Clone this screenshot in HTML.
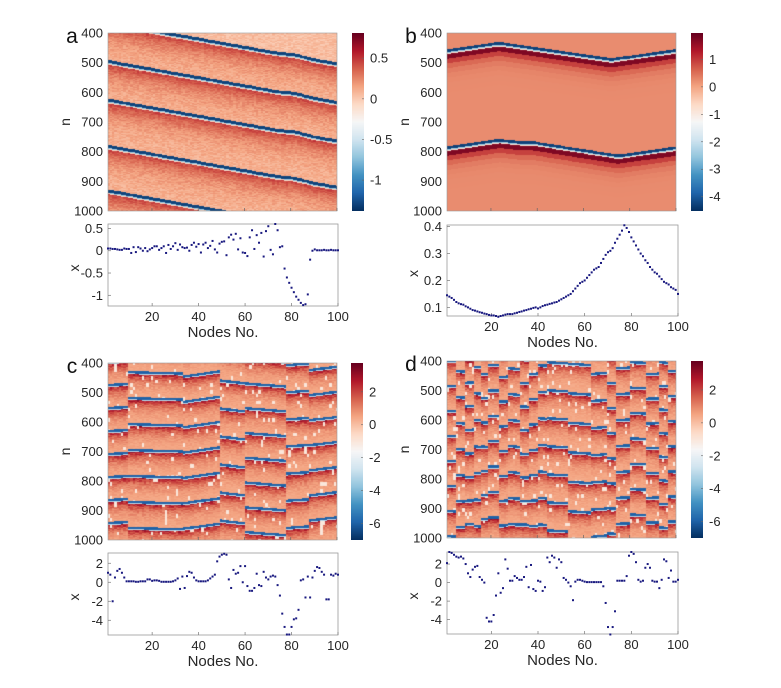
<!DOCTYPE html>
<html><head><meta charset="utf-8">
<style>
html,body{margin:0;padding:0;background:#fff;}
#wrap{position:relative;width:781px;height:688px;overflow:hidden;font-family:"Liberation Sans",Arial,sans-serif;}
canvas{position:absolute;}
svg{position:absolute;left:0;top:0;}
</style></head>
<body>
<div id="wrap">
<canvas id="hA"></canvas>
<canvas id="hB"></canvas>
<canvas id="hC"></canvas>
<canvas id="hD"></canvas>
<canvas id="cA"></canvas>
<canvas id="cB"></canvas>
<canvas id="cC"></canvas>
<canvas id="cD"></canvas>
<svg id="ov" width="781" height="688"></svg>
</div>
<script>
// ---- data ----
const xTicks=[20,40,60,80,100];
const nTicks=[400,500,600,700,800,900,1000];
const scatterA=[0.05,0.05,0.04,0.04,0.03,0.02,0.02,0.05,0.04,0.04,-0.05,0.08,-0.03,0.08,0.05,0.0,0.06,-0.01,0.03,0.06,0.1,0.1,0.02,0.06,0.1,-0.05,0.13,0.04,0.1,0.17,0.02,0.14,0.08,0.06,0.07,0.0,0.13,0.18,0.09,0.15,-0.04,0.14,0.18,0.06,0.11,0.22,0.03,-0.04,0.16,0.2,0.21,-0.1,0.3,0.36,0.25,0.38,0.03,0.28,-0.04,-0.05,-0.12,0.3,0.46,0.04,0.35,0.18,0.4,-0.13,0.44,0.55,0.02,-0.08,0.6,0.46,0.08,0.1,-0.4,-0.6,-0.72,-0.83,-0.93,-1.03,-1.1,-1.17,-1.22,-1.2,-0.98,-0.2,0.0,0.03,0.01,0.01,0.01,0.02,0.01,0.01,0.02,0.01,0.01,0.01];
const scatterB=[0.145,0.14,0.135,0.128,0.12,0.115,0.112,0.11,0.104,0.1,0.095,0.09,0.088,0.085,0.082,0.08,0.077,0.075,0.072,0.07,0.07,0.068,0.065,0.068,0.07,0.073,0.075,0.075,0.075,0.078,0.08,0.083,0.085,0.088,0.09,0.093,0.095,0.098,0.1,0.096,0.1,0.105,0.108,0.11,0.113,0.115,0.118,0.12,0.125,0.13,0.135,0.14,0.145,0.15,0.16,0.17,0.18,0.19,0.195,0.2,0.21,0.22,0.23,0.24,0.245,0.25,0.265,0.28,0.295,0.305,0.31,0.32,0.34,0.355,0.37,0.385,0.405,0.395,0.38,0.36,0.345,0.33,0.315,0.3,0.29,0.275,0.265,0.25,0.24,0.23,0.225,0.215,0.205,0.195,0.19,0.185,0.175,0.17,0.165,0.15];
const scatterC=[1.0,0.8,-2.0,0.5,1.2,1.4,1.0,0.5,0.1,0.1,0.1,0.1,0.05,0.05,0.1,0.1,0.1,0.3,0.3,0.15,0.2,0.2,0.15,0.05,0.05,0.05,0.05,0.05,0.1,0.2,0.4,-0.7,0.6,-0.6,0.65,1.1,1.0,0.5,0.2,0.1,0.1,0.1,0.1,0.2,0.4,0.6,0.8,2.2,2.7,2.9,3.0,2.9,0.3,-0.6,1.3,0.9,1.0,1.7,0.0,1.7,-0.4,-0.9,-0.9,-0.6,0.9,-0.3,-0.4,1.1,0.5,0.3,0.6,0.7,0.6,-0.3,-1.4,-3.3,-4.7,-5.5,-5.5,-4.7,-3.9,-3.8,-2.9,0.2,0.3,-1.6,0.6,-1.6,0.5,1.2,1.6,1.5,1.1,0.8,-1.8,-1.8,0.8,0.7,0.9,0.8];
const scatterD=[2.1,3.3,3.2,3.0,2.8,2.7,2.8,2.6,2.0,1.0,0.6,1.4,1.7,1.8,0.6,0.3,0.0,-3.8,-4.2,-4.2,-3.5,-1.4,1.0,-1.1,-0.6,2.5,1.5,0.2,0.2,0.7,0.5,0.3,0.3,0.6,1.7,-0.5,1.9,-0.7,-0.9,0.2,0.1,-0.9,-0.5,2.7,2.2,2.9,2.7,1.6,2.5,2.2,0.5,0.3,0.0,-0.4,-1.9,0.1,0.3,0.3,0.2,0.1,0.05,0.05,0.05,0.05,0.05,0.05,0.05,-0.4,-2.2,-4.8,-5.6,-4.8,-3.1,0.2,0.2,0.2,0.2,0.7,2.9,3.3,3.1,2.2,0.3,0.1,0.2,1.6,2.0,1.6,0.2,0.1,0.1,-0.6,0.3,2.5,2.3,0.5,1.3,0.1,0.1,0.3];
const frontsA=[362,492,622,778,928];
const slopeA=1.38;
const frontB1x=[1,23,72,100], frontB1n=[455,430,485,455];
const frontB2x=[1,23,33,38,75,100], frontB2n=[782,757,765,765,810,783];
const segC=[[1,9,470,-0.3,78],[9,33,515,0.2,88],[33,49,700,-1.1,86],[49,60,550,0.9,95],[60,78,465,0.6,84],[78,88,495,-0.5,92],[88,100,505,-0.9,85]];
const segD=[[1,4,480,0.3,85],[4,8,430,0.5,88],[8,12,470,-0.4,80],[12,15,505,0.6,90],[15,18,440,0.2,82],[18,23,410,0.0,86],[23,27,450,-0.3,84],[27,32,420,0.6,88],[32,36,470,0.3,80],[36,40,440,-0.4,86],[40,44,410,0.5,90],[44,53,400,0.4,95],[53,63,505,0.5,100],[63,70,440,-0.6,92],[70,74,470,0.4,85],[74,80,420,-0.3,88],[80,87,400,0.3,86],[87,93,440,-0.2,84],[93,97,480,0.5,80],[97,100,430,0.2,85]];

// ---- layout ----
const P={
 A:{h:{x:108,y:33,w:229,h:178},c:{x:352,y:33,w:12,h:178},s:{x:108,y:224,w:230,h:82},sr:[-1.24,0.6],st:[0.5,0,-0.5,-1],vr:[-1.38,0.81],ct:[0.5,0,-0.5,-1],data:scatterA,L:'a',lx:72},
 B:{h:{x:447,y:33,w:229,h:178},c:{x:691,y:33,w:12,h:178},s:{x:447,y:225,w:231,h:91},sr:[0.068,0.406],st:[0.1,0.2,0.3,0.4],vr:[-4.52,1.96],ct:[1,0,-1,-2,-3,-4],data:scatterB,L:'b',lx:411},
 C:{h:{x:108,y:363,w:229,h:177},c:{x:351,y:363,w:12,h:177},s:{x:108,y:553,w:230,h:82},sr:[-5.55,3.08],st:[2,0,-2,-4],vr:[-7,3.75],ct:[2,0,-2,-4,-6],data:scatterC,L:'c',lx:72},
 D:{h:{x:447,y:361,w:229,h:177},c:{x:691,y:361,w:12,h:177},s:{x:447,y:552,w:231,h:82},sr:[-5.55,3.3],st:[2,0,-2,-4],vr:[-7,3.76],ct:[2,0,-2,-4,-6],data:scatterD,L:'d',lx:411}
};
const stops=[[5,48,97],[33,102,172],[67,147,195],[146,197,222],[209,229,240],[247,247,247],[253,219,199],[244,165,130],[214,96,77],[178,24,43],[103,0,31]];
function cmap(t){t=Math.max(0,Math.min(1,t));const f=t*10,i=Math.min(9,Math.floor(f)),r=f-i;const a=stops[i],b=stops[i+1];return [a[0]+(b[0]-a[0])*r,a[1]+(b[1]-a[1])*r,a[2]+(b[2]-a[2])*r];}
function hash(a,b){let h=(a*374761393+b*668265263)|0;h=(h^(h>>>13))*1274126177|0;return ((h^(h>>>16))>>>0)/4294967296;}
function interp(xs,ns,x){for(let i=0;i<xs.length-1;i++){if(x<=xs[i+1]){const r=(x-xs[i])/(xs[i+1]-xs[i]);return ns[i]+(ns[i+1]-ns[i])*r;}}return ns[ns.length-1];}
function fieldA(node,n){let best=1e9;for(const f of frontsA){let fr=f+slopeA*(node-1);if(node>74&&node<90)fr+= (node<82? (node-74)*-0.6 : -4.8+(node-82)*0.6);const d=n-fr;if(d>=0&&d<best)best=d;}
 const nz=(hash(node,Math.floor(n/3))-0.5)*0.14;
 if(best<10)return -1.3;if(best<13)return -0.7;if(best<16)return -0.05;if(best>1e8)return 0.05+nz;
 return 0.08+0.4*Math.exp(-(best-16)/45)+nz;}
function fieldB(node,n){const f1=interp(frontB1x,frontB1n,node),f2=interp(frontB2x,frontB2n,node);let d=n-f2;if(d<0)d=n-f1;
 if(d<0||d>300)return 0.25; if(d<9)return -4.3;if(d<12)return -2.5;if(d<15)return -0.8;
 const s=Math.floor((d-15)/16);return 0.25+1.5*Math.exp(-s/1.3);}
function fieldCD(segs,node,n,seed){let sg=segs[segs.length-1];for(const s of segs){if(node>=s[0]&&node<s[1]){sg=s;break;}}
 const fr=sg[2]+sg[3]*(node-sg[0]);let d=((n-fr)%sg[4]+sg[4])%sg[4];
 const blk=hash(node*7+seed,Math.floor(n/12));
 if(d<8)return -6;if(d<11)return -3;
 if(blk>0.95)return -1.0;
 const st=hash(node+seed,Math.floor(n/3.5));
 const base=0.4+2.3*Math.exp(-(d-11)/22);
 return base+(st-0.5)*1.4*Math.exp(-(d-11)/40);}
function drawHeat(id,p,fn){const c=document.getElementById(id);c.width=p.h.w;c.height=p.h.h;c.style.left=p.h.x+'px';c.style.top=p.h.y+'px';
 const ctx=c.getContext('2d');const im=ctx.createImageData(p.h.w,p.h.h);
 for(let py=0;py<p.h.h;py++){const n=400+(py+0.5)/p.h.h*600;for(let px=0;px<p.h.w;px++){const node=Math.floor(0.5+px/p.h.w*100)+0.5;const v=fn(Math.max(1,Math.min(100,node)),n);const col=cmap((v-p.vr[0])/(p.vr[1]-p.vr[0]));const k=(py*p.h.w+px)*4;im.data[k]=col[0];im.data[k+1]=col[1];im.data[k+2]=col[2];im.data[k+3]=255;}}
 ctx.putImageData(im,0,0);}
function drawCB(id,p){const c=document.getElementById(id);c.width=p.c.w;c.height=p.c.h;c.style.left=p.c.x+'px';c.style.top=p.c.y+'px';const ctx=c.getContext('2d');
 for(let y=0;y<p.c.h;y++){const col=cmap(1-y/(p.c.h-1));ctx.fillStyle=`rgb(${col[0]|0},${col[1]|0},${col[2]|0})`;ctx.fillRect(0,y,p.c.w,1);}}
drawHeat('hA',P.A,fieldA);drawHeat('hB',P.B,fieldB);
drawHeat('hC',P.C,(x,n)=>fieldCD(segC,x,n,11));drawHeat('hD',P.D,(x,n)=>fieldCD(segD,x,n,29));
drawCB('cA',P.A);drawCB('cB',P.B);drawCB('cC',P.C);drawCB('cD',P.D);

const NS='http://www.w3.org/2000/svg';const ov=document.getElementById('ov');
function el(tag,attrs,txt){const e=document.createElementNS(NS,tag);for(const k in attrs)e.setAttribute(k,attrs[k]);if(txt!==undefined)e.textContent=txt;ov.appendChild(e);return e;}
const TC='#262626';
for(const key of ['A','B','C','D']){const p=P[key];const h=p.h,s=p.s,cb=p.c;
 const xH=v=>h.x+(v-1)/99*h.w, yH=n=>h.y+(n-400)/600*h.h;
 const xS=v=>s.x+(v-1)/99*s.w, yS=v=>s.y+(p.sr[1]-v)/(p.sr[1]-p.sr[0])*s.h;
 const yC=v=>cb.y+(p.vr[1]-v)/(p.vr[1]-p.vr[0])*cb.h;
 let e=el('text',{x:p.lx,y:h.y+10,'font-size':21,'text-anchor':'middle',fill:'#111'},p.L.toLowerCase());
 
 
 e=el('rect',{x:h.x,y:h.y,width:h.w,height:h.h,fill:'none',stroke:'#9a9a9a','stroke-width':0.6});
 
 
 for(const n of nTicks){e=el('text',{x:h.x-5,y:yH(n)+4.5,'font-size':13,'text-anchor':'end',fill:TC},String(n));
  
  }
 for(const t of xTicks){e=el('line',{x1:xH(t),x2:xH(t),y1:h.y+h.h,y2:h.y+h.h-3,stroke:'#666','stroke-width':0.7});
  
  }
 e=el('text',{x:h.x-38,y:h.y+h.h/2,'font-size':14,'text-anchor':'middle',fill:TC,transform:`rotate(-90 ${h.x-38} ${h.y+h.h/2})`},'n');
 
 
 for(const t of p.ct){e=el('text',{x:cb.x+cb.w+6,y:yC(t)+4.5,'font-size':13,fill:TC},String(t));
  
  
  e=el('line',{x1:cb.x+cb.w,x2:cb.x+cb.w-2,y1:yC(t),y2:yC(t),stroke:'#666','stroke-width':0.6});
  
  }
 e=el('rect',{x:s.x,y:s.y,width:s.w,height:s.h,fill:'#fff',stroke:'#9a9a9a','stroke-width':0.8});
 
 
 for(const t of xTicks){e=el('line',{x1:xS(t),x2:xS(t),y1:s.y+s.h,y2:s.y+s.h-3,stroke:'#777','stroke-width':0.7});
  
  
  e=el('text',{x:xS(t),y:s.y+s.h+15,'font-size':13,'text-anchor':'middle',fill:TC},String(t));
  
  }
 for(const t of p.st){e=el('line',{x1:s.x,x2:s.x+3,y1:yS(t),y2:yS(t),stroke:'#777','stroke-width':0.7});
  
  
  e=el('text',{x:s.x-5,y:yS(t)+4.5,'font-size':13,'text-anchor':'end',fill:TC},String(t));
  
  }
 e=el('text',{x:s.x+s.w/2,y:s.y+s.h+31,'font-size':15,'text-anchor':'middle',fill:TC},'Nodes No.');
 
 
 const xl=s.x-29,yl=s.y+s.h/2+3;
 e=el('text',{x:xl,y:yl,'font-size':14,'text-anchor':'middle',fill:TC,transform:`rotate(-90 ${xl} ${yl})`},'x');
 
 
 p.data.forEach((v,i)=>{const d=el('rect',{x:xS(i+1)-1,y:yS(v)-1,width:2,height:2,fill:'#1a1a80'});
  
  });
}
</script>
</body></html>
